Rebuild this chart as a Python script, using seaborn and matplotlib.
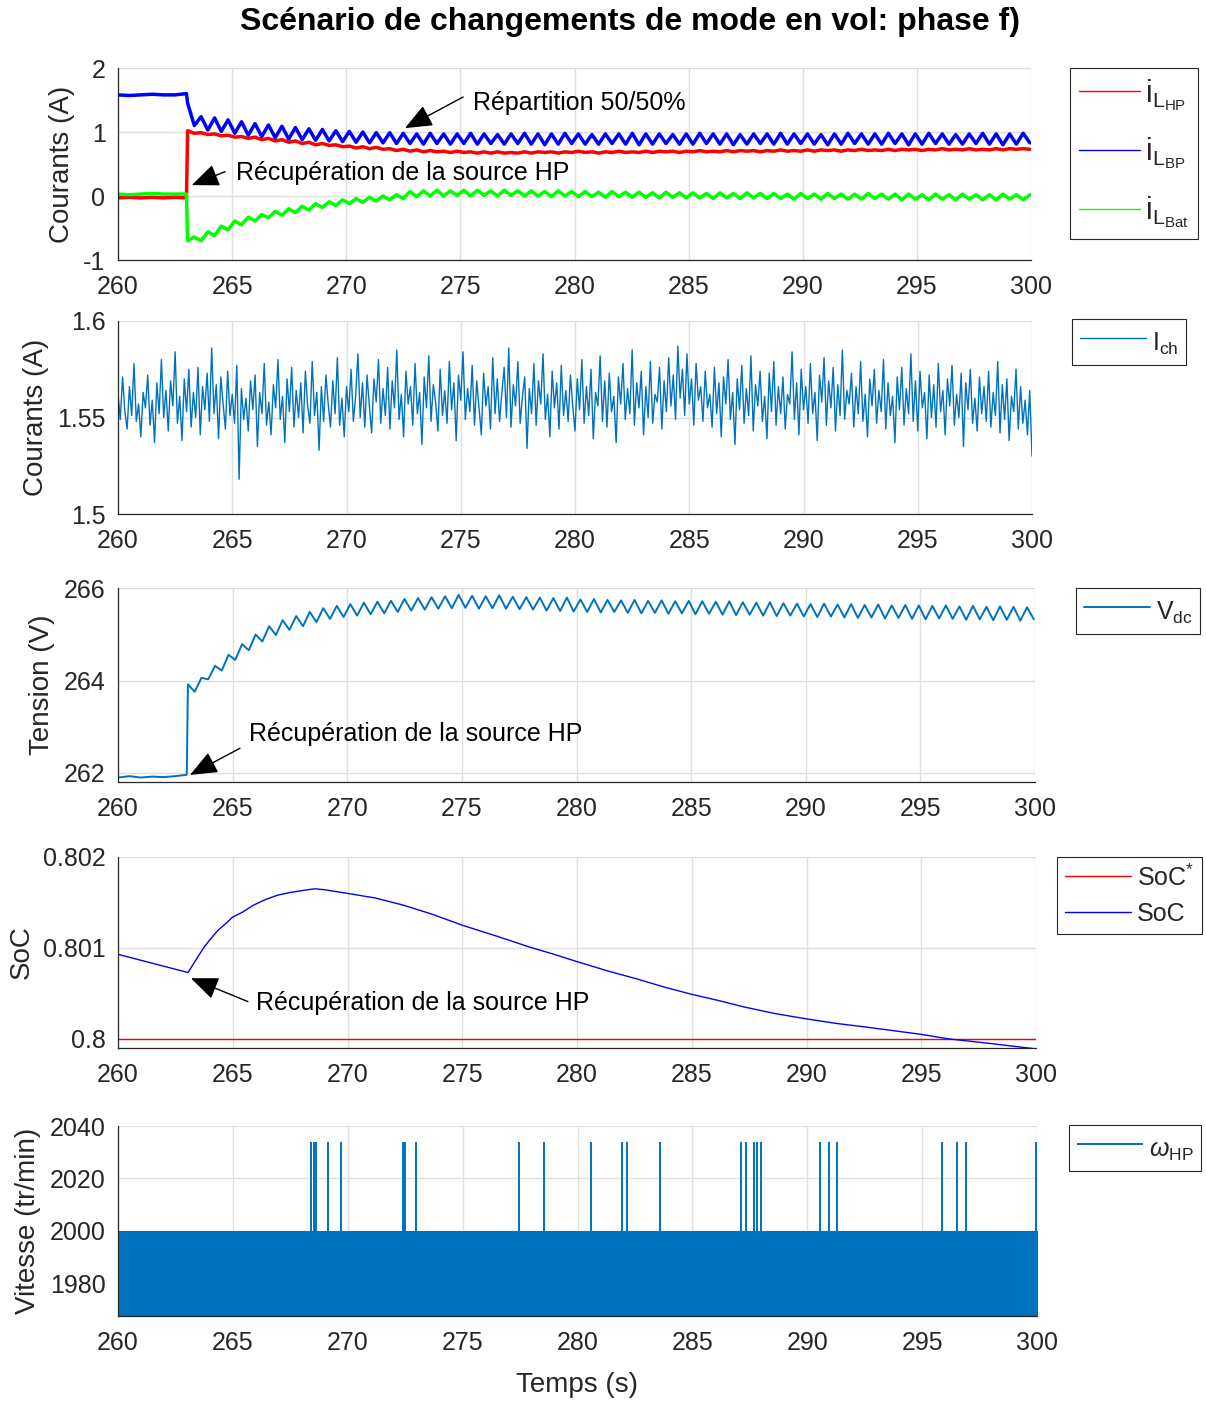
import numpy as np
import matplotlib
matplotlib.use("Agg")
import matplotlib.pyplot as plt
import seaborn as sns

# ---------- valeurs ----------
# phase avant la recuperation de la source HP (260 -> 263 s)
t_pre = [260.0, 260.5, 261.0, 261.5, 262.0, 262.5, 263.0]
ihp_pre = [-0.03, -0.02, -0.03, -0.02, -0.03, -0.02, -0.03]
ibp_pre = [1.58, 1.57, 1.58, 1.59, 1.58, 1.58, 1.60]
ibat_pre = [0.03, 0.02, 0.03, 0.04, 0.03, 0.03, 0.03]
vdc_pre = [261.90, 261.93, 261.90, 261.92, 261.91, 261.93, 261.96]

# apres 263 s : echantillons creux/crete (pas ~0.295 s, 263.05 -> 299.95 s)
ihp_post = [1.02, 0.98, 0.99, 0.96, 0.97, 0.94, 0.95, 0.92, 0.93, 0.90,
            0.92, 0.88, 0.90, 0.86, 0.88, 0.84, 0.86, 0.82, 0.84, 0.80,
            0.82, 0.79, 0.80, 0.77, 0.78, 0.75, 0.77, 0.74, 0.76, 0.73,
            0.74, 0.71, 0.73, 0.70, 0.72, 0.69, 0.71, 0.69, 0.70, 0.68,
            0.70, 0.68, 0.69, 0.67, 0.69, 0.67, 0.69, 0.67, 0.68, 0.67,
            0.69, 0.67, 0.69, 0.68, 0.69, 0.67, 0.69, 0.68, 0.70, 0.68,
            0.69, 0.67, 0.69, 0.68, 0.70, 0.68, 0.69, 0.68, 0.70, 0.68,
            0.70, 0.69, 0.70, 0.68, 0.70, 0.69, 0.71, 0.69, 0.70, 0.69,
            0.71, 0.69, 0.71, 0.70, 0.71, 0.69, 0.71, 0.70, 0.72, 0.70,
            0.71, 0.70, 0.72, 0.70, 0.72, 0.71, 0.72, 0.70, 0.72, 0.71,
            0.73, 0.71, 0.72, 0.71, 0.73, 0.71, 0.73, 0.72, 0.73, 0.71,
            0.73, 0.72, 0.74, 0.72, 0.73, 0.72, 0.74, 0.72, 0.73, 0.72,
            0.74, 0.72, 0.74, 0.73, 0.74, 0.73]
ibp_post = [1.45, 1.10, 1.24, 1.03, 1.22, 1.01, 1.19, 0.98, 1.16, 0.95,
            1.13, 0.93, 1.11, 0.91, 1.09, 0.89, 1.07, 0.88, 1.05, 0.87,
            1.04, 0.86, 1.02, 0.85, 1.01, 0.84, 1.00, 0.83, 0.99, 0.83,
            0.99, 0.82, 0.98, 0.82, 0.97, 0.81, 0.98, 0.82, 0.97, 0.81,
            0.97, 0.82, 0.98, 0.81, 0.97, 0.82, 0.96, 0.81, 0.97, 0.82,
            0.98, 0.81, 0.97, 0.80, 0.97, 0.81, 0.98, 0.82, 0.97, 0.81,
            0.96, 0.81, 0.97, 0.82, 0.97, 0.81, 0.98, 0.80, 0.97, 0.81,
            0.97, 0.82, 0.96, 0.81, 0.97, 0.81, 0.98, 0.82, 0.97, 0.81,
            0.97, 0.80, 0.96, 0.81, 0.97, 0.82, 0.97, 0.81, 0.98, 0.81,
            0.97, 0.82, 0.97, 0.81, 0.96, 0.80, 0.97, 0.81, 0.98, 0.82,
            0.97, 0.81, 0.97, 0.81, 0.98, 0.82, 0.97, 0.80, 0.97, 0.81,
            0.98, 0.82, 0.97, 0.81, 0.96, 0.81, 0.97, 0.82, 0.98, 0.81,
            0.97, 0.80, 0.97, 0.81, 0.98, 0.83]
ibat_post = [-0.70, -0.64, -0.70, -0.56, -0.62, -0.47, -0.53, -0.39, -0.45, -0.33,
             -0.39, -0.29, -0.34, -0.24, -0.30, -0.20, -0.26, -0.16, -0.22, -0.12,
             -0.18, -0.09, -0.15, -0.06, -0.12, -0.04, -0.10, -0.02, -0.08, 0.00,
             -0.06, 0.02, -0.04, 0.07, -0.01, 0.08, 0.00, 0.09, 0.00, 0.08,
             0.01, 0.09, 0.00, 0.09, 0.01, 0.08, 0.00, 0.09, 0.01, 0.08,
             0.00, 0.08, 0.00, 0.07, -0.01, 0.08, 0.00, 0.07, -0.01, 0.07,
             -0.01, 0.06, -0.02, 0.07, -0.01, 0.06, -0.02, 0.06, -0.02, 0.05,
             -0.03, 0.06, -0.02, 0.05, -0.03, 0.05, -0.03, 0.04, -0.04, 0.05,
             -0.03, 0.04, -0.04, 0.05, -0.03, 0.04, -0.04, 0.04, -0.04, 0.03,
             -0.05, 0.04, -0.04, 0.03, -0.05, 0.04, -0.04, 0.03, -0.05, 0.03,
             -0.05, 0.04, -0.04, 0.03, -0.05, 0.03, -0.06, 0.03, -0.05, 0.02,
             -0.06, 0.03, -0.05, 0.02, -0.06, 0.03, -0.05, 0.02, -0.06, 0.02,
             -0.06, 0.03, -0.05, 0.02, -0.06, 0.02]
vdc_post = [263.92, 263.76, 264.06, 264.03, 264.32, 264.22, 264.56, 264.45, 264.79, 264.66,
            265.00, 264.85, 265.18, 264.99, 265.31, 265.10, 265.40, 265.18, 265.49, 265.27,
            265.57, 265.34, 265.62, 265.38, 265.66, 265.41, 265.69, 265.44, 265.71, 265.46,
            265.73, 265.49, 265.77, 265.52, 265.79, 265.54, 265.81, 265.56, 265.83, 265.57,
            265.86, 265.58, 265.84, 265.56, 265.83, 265.57, 265.85, 265.56, 265.82, 265.55,
            265.81, 265.54, 265.80, 265.52, 265.79, 265.51, 265.80, 265.50, 265.76, 265.49,
            265.77, 265.48, 265.75, 265.49, 265.74, 265.47, 265.75, 265.46, 265.73, 265.47,
            265.74, 265.45, 265.72, 265.46, 265.73, 265.44, 265.72, 265.45, 265.71, 265.43,
            265.72, 265.42, 265.70, 265.43, 265.69, 265.41, 265.70, 265.40, 265.68, 265.41,
            265.67, 265.39, 265.66, 265.38, 265.67, 265.39, 265.65, 265.37, 265.66, 265.36,
            265.64, 265.37, 265.65, 265.35, 265.63, 265.36, 265.64, 265.34, 265.63, 265.33,
            265.62, 265.35, 265.63, 265.34, 265.61, 265.32, 265.62, 265.33, 265.60, 265.31,
            265.61, 265.32, 265.60, 265.30, 265.59, 265.33]

# courant de charge (echantillons tous les 0.1 s, 260 -> 300 s)
ich = [1.562, 1.549, 1.571, 1.553, 1.544, 1.566, 1.551, 1.578, 1.548, 1.557, 1.540, 1.563, 1.555, 1.572, 1.546, 1.559, 1.537, 1.568, 1.552, 1.580,
       1.550, 1.564, 1.543, 1.569, 1.556, 1.584, 1.547, 1.561, 1.538, 1.570, 1.553, 1.575, 1.545, 1.563, 1.550, 1.576, 1.541, 1.566, 1.554, 1.573,
       1.548, 1.586, 1.552, 1.567, 1.539, 1.571, 1.557, 1.544, 1.574, 1.551, 1.562, 1.547, 1.577, 1.518, 1.565, 1.549, 1.560, 1.543, 1.569, 1.554,
       1.572, 1.535, 1.563, 1.552, 1.578, 1.546, 1.558, 1.541, 1.567, 1.555, 1.580, 1.549, 1.561, 1.537, 1.570, 1.553, 1.576, 1.545, 1.564, 1.550,
       1.568, 1.542, 1.574, 1.556, 1.547, 1.579, 1.551, 1.563, 1.533, 1.566, 1.548, 1.572, 1.557, 1.545, 1.569, 1.552, 1.581, 1.546, 1.560, 1.540,
       1.566, 1.553, 1.575, 1.548, 1.561, 1.583, 1.550, 1.568, 1.545, 1.572, 1.556, 1.542, 1.570, 1.558, 1.580, 1.547, 1.565, 1.551, 1.576, 1.544,
       1.569, 1.555, 1.585, 1.549, 1.562, 1.540, 1.574, 1.557, 1.566, 1.546, 1.578, 1.552, 1.563, 1.536, 1.571, 1.555, 1.582, 1.548, 1.567, 1.558,
       1.543, 1.575, 1.551, 1.564, 1.547, 1.579, 1.554, 1.568, 1.538, 1.572, 1.559, 1.584, 1.549, 1.565, 1.553, 1.577, 1.546, 1.569, 1.555, 1.541,
       1.573, 1.556, 1.566, 1.544, 1.581, 1.552, 1.570, 1.548, 1.563, 1.576, 1.550, 1.586, 1.545, 1.567, 1.556, 1.579, 1.547, 1.561, 1.571, 1.534,
       1.565, 1.552, 1.578, 1.546, 1.569, 1.557, 1.583, 1.549, 1.562, 1.540, 1.574, 1.555, 1.568, 1.544, 1.577, 1.551, 1.564, 1.548, 1.572, 1.556,
       1.543, 1.570, 1.554, 1.580, 1.547, 1.566, 1.551, 1.575, 1.539, 1.563, 1.556, 1.582, 1.548, 1.569, 1.545, 1.573, 1.553, 1.561, 1.537, 1.571,
       1.557, 1.578, 1.549, 1.565, 1.552, 1.585, 1.546, 1.568, 1.555, 1.574, 1.541, 1.566, 1.550, 1.579, 1.547, 1.562, 1.558, 1.576, 1.544, 1.569,
       1.553, 1.581, 1.556, 1.572, 1.549, 1.587, 1.560, 1.575, 1.551, 1.583, 1.557, 1.570, 1.546, 1.578, 1.559, 1.566, 1.548, 1.574, 1.555, 1.562,
       1.545, 1.576, 1.552, 1.568, 1.540, 1.571, 1.557, 1.580, 1.549, 1.563, 1.536, 1.570, 1.554, 1.577, 1.547, 1.565, 1.551, 1.582, 1.543, 1.567,
       1.556, 1.574, 1.548, 1.561, 1.539, 1.573, 1.553, 1.579, 1.546, 1.566, 1.552, 1.571, 1.544, 1.562, 1.557, 1.584, 1.549, 1.568, 1.541, 1.575,
       1.554, 1.566, 1.547, 1.578, 1.552, 1.563, 1.538, 1.572, 1.558, 1.581, 1.546, 1.569, 1.555, 1.576, 1.543, 1.567, 1.551, 1.585, 1.549, 1.564,
       1.557, 1.573, 1.545, 1.566, 1.552, 1.579, 1.548, 1.562, 1.540, 1.570, 1.556, 1.575, 1.547, 1.564, 1.553, 1.580, 1.544, 1.568, 1.551, 1.561,
       1.537, 1.571, 1.554, 1.576, 1.546, 1.565, 1.552, 1.583, 1.548, 1.569, 1.543, 1.574, 1.555, 1.563, 1.539, 1.572, 1.550, 1.567, 1.545, 1.578,
       1.553, 1.564, 1.541, 1.570, 1.556, 1.577, 1.546, 1.562, 1.550, 1.573, 1.535, 1.568, 1.554, 1.575, 1.547, 1.560, 1.543, 1.571, 1.552, 1.566,
       1.548, 1.574, 1.545, 1.563, 1.551, 1.579, 1.542, 1.567, 1.549, 1.570, 1.538, 1.561, 1.553, 1.575, 1.544, 1.566, 1.547, 1.559, 1.541, 1.564,
       1.530]

# etat de charge
soc_t = [260.0, 263.05, 263.4, 263.7, 264.0, 264.34, 264.7, 265.0, 265.4, 265.9,
         266.4, 266.95, 267.5, 268.26, 268.6, 269.0, 270.0, 271.2, 272.44, 273.7,
         275.0, 276.5, 277.93, 279.0, 280.0, 281.3, 282.6, 283.8, 285.0, 286.2,
         287.3, 288.6, 290.0, 291.3, 292.6, 293.8, 295.0, 296.2, 298.0, 300.0]
soc_v = [0.80093, 0.80073, 0.80087, 0.80099, 0.80109, 0.80119, 0.80127, 0.80134, 0.80139, 0.80147,
         0.80153, 0.80158, 0.80161, 0.80164, 0.80165, 0.80164, 0.80160, 0.80155, 0.80147, 0.80137,
         0.80125, 0.80113, 0.80101, 0.80093, 0.80085, 0.80075, 0.80066, 0.80057, 0.80049, 0.80042,
         0.80035, 0.80028, 0.80022, 0.80017, 0.80013, 0.80009, 0.80005, 0.80000, 0.79995, 0.79989]
soc_ref_t = [260.0, 300.0]
soc_ref_v = [0.8, 0.8]

# vitesse HP : bande d'oscillation rapide + pics isoles
omega_band_t = [260.0, 300.05]
omega_band_low = [1960.0, 1960.0]
omega_band_high = [2000.0, 2000.0]
omega_spike_t = [268.40, 268.52, 268.62, 269.13, 269.69, 272.39, 272.50, 272.98, 277.45, 278.53,
                 280.59, 281.92, 282.15, 283.58, 287.12, 287.32, 287.68, 287.80, 288.00, 290.54,
                 290.95, 291.28, 295.85, 296.50, 296.91, 299.94]
omega_spike_top = 2034.0

# ---------- style ----------
sns.set_theme(style="white")
plt.rcParams["font.family"] = ["Liberation Sans", "DejaVu Sans"]
plt.rcParams["mathtext.fontset"] = "custom"
plt.rcParams["mathtext.rm"] = "Liberation Sans"
plt.rcParams["mathtext.it"] = "Liberation Sans:italic"
plt.rcParams["mathtext.default"] = "regular"
plt.rcParams["axes.unicode_minus"] = False

W, H = 1206, 1401
fig = plt.figure(figsize=(W / 100, H / 100), dpi=100)
INK = "#262626"
MBLUE = "#0072BD"


def make_ax(left, right, top, bottom):
    return fig.add_axes([left / W, 1 - bottom / H, (right - left) / W, (bottom - top) / H])


def style(ax, ylim, yticks, yticklabels, ylabel):
    ax.set_xlim(260, 300)
    ax.set_ylim(*ylim)
    ax.set_xticks(range(260, 301, 5))
    ax.set_yticks(yticks)
    ax.set_yticklabels(yticklabels)
    ax.grid(True, color="#dfdfdf", lw=1.0)
    ax.set_axisbelow(True)
    ax.tick_params(direction="in", length=6, width=0.9, labelsize=18, colors=INK, pad=9)
    ax.tick_params(axis="x", pad=11)
    for s in ["top", "right"]:
        ax.spines[s].set_visible(False)
    for s in ["left", "bottom"]:
        ax.spines[s].set_color(INK)
        ax.spines[s].set_linewidth(0.9)
    ax.set_ylabel(ylabel, fontsize=20, color=INK, labelpad=6)


def legend(ax, handles, labels, x0, y0, **kw):
    opts = dict(fontsize=18, handlelength=2.65, handletextpad=0.25, borderpad=0.3,
                labelspacing=0.5, handleheight=1.55)
    opts.update(kw)
    leg = ax.legend(handles, labels, loc="upper left", bbox_to_anchor=(x0 / W, 1 - y0 / H),
                    bbox_transform=fig.transFigure, borderaxespad=0, frameon=True,
                    fancybox=False, edgecolor=INK, framealpha=1, **opts)
    leg.get_frame().set_linewidth(0.8)
    return leg


def lp(ax, t, y, color, lw):
    sns.lineplot(x=t, y=y, ax=ax, color=color, linewidth=lw, estimator=None, sort=False,
                 legend=False)
    return ax.lines[-1]


arrow = dict(arrowstyle="-|>,head_length=0.85,head_width=0.35", color="black", lw=1.0,
             mutation_scale=20, shrinkA=0, shrinkB=0)


def note(ax, text, head, tail, pos):
    ax.annotate("", xy=head, xytext=tail, arrowprops=arrow)
    ax.text(pos[0], pos[1], text, fontsize=18, va="center", ha="left", color="black")


# ---------- 1 : courants des sources ----------
ax1 = make_ax(118, 1031, 68, 260)
t1 = np.concatenate([t_pre, np.linspace(263.05, 299.95, len(ihp_post))])
l_hp = lp(ax1, t1, np.concatenate([ihp_pre, ihp_post]), "#FF0000", 2.5)
t1b = np.concatenate([t_pre, np.linspace(263.05, 299.95, len(ibp_post))])
l_bp = lp(ax1, t1b, np.concatenate([ibp_pre, ibp_post]), "#0000FF", 2.5)
t1c = np.concatenate([t_pre, np.linspace(263.05, 299.95, len(ibat_post))])
l_bat = lp(ax1, t1c, np.concatenate([ibat_pre, ibat_post]), "#00FF00", 2.5)
style(ax1, (-1, 2), [-1, 0, 1, 2], ["-1", "0", "1", "2"], "Courants (A)")
note(ax1, "Répartition 50/50%", (272.57, 1.06), (275.12, 1.547), (275.55, 1.45))
note(ax1, "Récupération de la source HP", (263.23, 0.17), (264.69, 0.38), (265.17, 0.36))
leg1 = legend(ax1, [l_hp, l_bp, l_bat],
              [r"$i_{L_{HP}}$", r"$i_{L_{BP}}$", r"$i_{L_{Bat}}$"], 1070, 68,
              fontsize=22, handlelength=2.0, handletextpad=0.15, labelspacing=0.75,
              borderpad=0.3, handleheight=0.7)
for h in leg1.legend_handles:
    h.set_linewidth(1.0)

# ---------- 2 : courant de charge ----------
ax2 = make_ax(118, 1032, 321, 514)
l_ch = lp(ax2, np.linspace(260, 300, len(ich)), ich, MBLUE, 1.0)
style(ax2, (1.5, 1.6), [1.5, 1.55, 1.6], ["1.5", "1.55", "1.6"], "Courants (A)")
legend(ax2, [l_ch], [r"I$_{ch}$"], 1072, 319)

# ---------- 3 : tension du bus ----------
ax3 = make_ax(118, 1035, 588.4, 781.7)
t3 = np.concatenate([t_pre, np.linspace(263.05, 299.95, len(vdc_post))])
l_vdc = lp(ax3, t3, np.concatenate([vdc_pre, vdc_post]), MBLUE, 1.4)
style(ax3, (261.81, 266), [262, 264, 266], ["262", "264", "266"], "Tension (V)")
note(ax3, "Récupération de la source HP", (263.14, 261.957), (265.32, 262.535),
     (265.71, 262.845))
legend(ax3, [l_vdc], [r"V$_{dc}$"], 1076, 588)

# ---------- 4 : SoC ----------
ax4 = make_ax(118, 1036, 857, 1048)
l_ref = lp(ax4, soc_ref_t, soc_ref_v, "#FF0000", 1.0)
l_soc = lp(ax4, soc_t, soc_v, "#0000FF", 1.0)
style(ax4, (0.7999, 0.802), [0.8, 0.801, 0.802], ["0.8", "0.801", "0.802"], "SoC")
note(ax4, "Récupération de la source HP", (263.18, 0.800667), (265.66, 0.80041),
     (266.01, 0.800396))
legend(ax4, [l_ref, l_soc], [r"SoC$^{*}$", "SoC"], 1057, 857, labelspacing=0.45,
       handleheight=0.9)

# ---------- 5 : vitesse HP ----------
ax5 = make_ax(118, 1037, 1126, 1316)
ax5.fill_between(omega_band_t, omega_band_low, omega_band_high, color=MBLUE, lw=0)
l_w = ax5.vlines(omega_spike_t, 2000, omega_spike_top, color=MBLUE, lw=1.4)
style(ax5, (1967.6, 2040), [1980, 2000, 2020, 2040], ["1980", "2000", "2020", "2040"],
      "Vitesse (tr/min)")
ax5.set_xlabel("Temps (s)", fontsize=20, color=INK, labelpad=12)
legend(ax5, [l_w], [r"$\mathit{\omega}_{HP}$"], 1069, 1125)

fig.text(630.5 / W, 1 - 22 / H, "Scénario de changements de mode en vol: phase f)",
         ha="center", va="center", fontsize=23, fontweight="bold", color="black")

fig.savefig("out.png", dpi=100)
